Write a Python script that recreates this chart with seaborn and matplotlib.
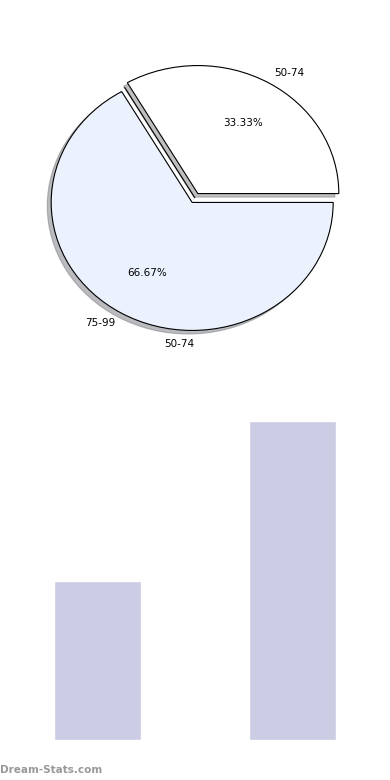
import matplotlib
matplotlib.use("Agg")
import matplotlib.pyplot as plt
import seaborn as sns
import numpy as np

sns.set_theme(style="white")
plt.rcParams['font.family'] = ['DejaVu Sans']

# data
pie_labels = ["50-74", "75-99", "50-74"]
pie_counts = [1, 0, 2]
bar_categories = ["A", "B"]
bar_values = [1, 2]

pie_colors = ["#FFFFFF", "#EBF1FD", "#EBF1FD"]
bar_color = "#CCCCE4"

fig = plt.figure(figsize=(3.9, 7.8), dpi=100)
W, H = 390, 780

# pie axes (pixel rect -> fraction)
cx, cy, rx, ry = 195, 198, 141, 128
ax = fig.add_axes([(cx - 1.3 * rx) / W, 1 - (cy + 1.3 * ry) / H, 2.6 * rx / W, 2.6 * ry / H])
total = sum(pie_counts)

def fmt(p):
    return f"{p:.2f}%" if p > 0 else ""

wedges, texts, autotexts = ax.pie(
    pie_counts, labels=pie_labels, colors=pie_colors, startangle=0,
    explode=[0.04, 0.0, 0.04], autopct=fmt, pctdistance=0.64, labeldistance=1.19,
    shadow={'ox': -0.02, 'oy': -0.02, 'shade': 0.5},
    wedgeprops=dict(edgecolor="black", linewidth=0.8),
    textprops=dict(fontsize=7.5, color="black"))
ax.set_aspect('auto')
ax.set_xlim(-1.3, 1.3)
ax.set_ylim(-1.3, 1.3)
ax.axis('off')
# label placement as in reference
label_pos = [(0.67, 0.98), (-0.67, -0.98), (-0.11, -1.14)]
for t, p in zip(texts, label_pos):
    t.set_position(p)
    t.set_ha('center')
    t.set_va('center')

# bar axes
bx = fig.add_axes([0, 40 / H, 1, 319 / H])
sns.barplot(x=bar_categories, y=bar_values, color=bar_color, saturation=1, width=0.45, ax=bx)
bx.set_xlim(-0.5, 1.5)
bx.set_ylim(0, 2)
bx.axis('off')

fig.text(0.0, 1 - 770 / H, "Dream-Stats.com", fontsize=7.5, color="#999999",
         fontweight="bold", ha="left", va="center")

fig.savefig("out.png", dpi=100, facecolor="white")
